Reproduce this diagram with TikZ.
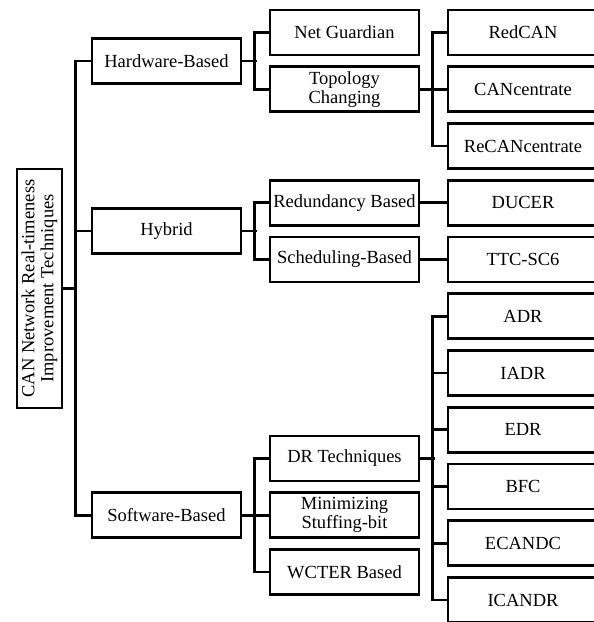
\documentclass[tikz,border=0pt]{standalone}
\usepackage{fontspec}
\setmainfont{Liberation Serif}
\begin{document}
\begin{tikzpicture}[x=1pt,y=-1pt,
  every node/.style={font=\fontsize{18.5}{19}\selectfont},
  box/.style={draw,line width=2.6pt,rectangle,inner sep=0pt,align=center,minimum height=45pt},
  lone/.style={box,minimum width=149pt},
  ltwo/.style={box,minimum width=149pt},
  lthree/.style={box,minimum width=150pt},
  conn/.style={line width=2.6pt}]
\useasboundingbox (0,0) rectangle (594,622);
\clip (0,0) rectangle (594,622);
\fill[white] (0,0) rectangle (594,622);
% root
\node[box,rotate=90,minimum width=239pt,minimum height=45pt] (root) at (39.5,288.5)
  {CAN Network Real-timeness\\Improvement Techniques};
% level 1
\node[lone] (hw) at (166.5,61) {Hardware-Based};
\node[lone] (hy) at (166.5,231.1) {Hybrid};
\node[lone] (sw) at (166.5,515.25) {Software-Based};
% level 2
\node[ltwo] (ng) at (344.5,32.5) {Net Guardian};
\node[ltwo] (tc) at (344.5,89.25) {Topology\\Changing};
\node[ltwo] (rd) at (344.5,202.75) {Redundancy Based};
\node[ltwo] (sc) at (344.5,259.5) {Scheduling-Based};
\node[ltwo] (dr) at (344.5,458.5) {DR Techniques};
\node[ltwo] (ms) at (344.5,515.25) {Minimizing\\Stuffing-bit};
\node[ltwo] (wc) at (344.5,572) {WCTER Based};
% level 3
\node[lthree] (rc) at (523,32.5) {RedCAN};
\node[lthree] (cc) at (523,89.25) {CANcentrate};
\node[lthree] (rcc) at (523,146) {ReCANcentrate};
\node[lthree] (du) at (523,202.75) {DUCER};
\node[lthree] (tt) at (523,259.5) {TTC-SC6};
\node[lthree] (adr) at (523,316.25) {ADR};
\node[lthree] (iadr) at (523,373) {IADR};
\node[lthree] (edr) at (523,429.75) {EDR};
\node[lthree] (bfc) at (523,486.5) {BFC};
\node[lthree] (ecd) at (523,543.25) {ECANDC};
\node[lthree] (icd) at (523,600) {ICANDR};
% trunk
\draw[conn] (hw.west) -- ++(-15,0) |- (sw.west);
\draw[conn] (hy.west) -- ++(-15,0);
\draw[conn] (root.south) -- ([xshift=-15pt]hw.west |- root.south);
% hardware
\draw[conn] (hw.east) -- ++(15,0);
\draw[conn] (ng.west) -- ++(-14,0) |- (tc.west);
% topology
\draw[conn] (tc.east) -- ++(15,0);
\draw[conn] (rc.west) -- ++(-14,0) |- (rcc.west);
\draw[conn] (cc.west) -- ++(-14,0);
% hybrid
\draw[conn] (hy.east) -- ++(15,0);
\draw[conn] (rd.west) -- ++(-14,0) |- (sc.west);
\draw[conn] (rd.east) -- (du.west);
\draw[conn] (sc.east) -- (tt.west);
% software
\draw[conn] (sw.east) -- (ms.west);
\draw[conn] (dr.west) -- ++(-14,0) |- (wc.west);
% DR
\draw[conn] (dr.east) -- ++(15,0);
\draw[conn] (adr.west) -- ++(-14,0) |- (icd.west);
\draw[conn] (iadr.west) -- ++(-14,0);
\draw[conn] (edr.west) -- ++(-14,0);
\draw[conn] (bfc.west) -- ++(-14,0);
\draw[conn] (ecd.west) -- ++(-14,0);
\end{tikzpicture}
\end{document}
